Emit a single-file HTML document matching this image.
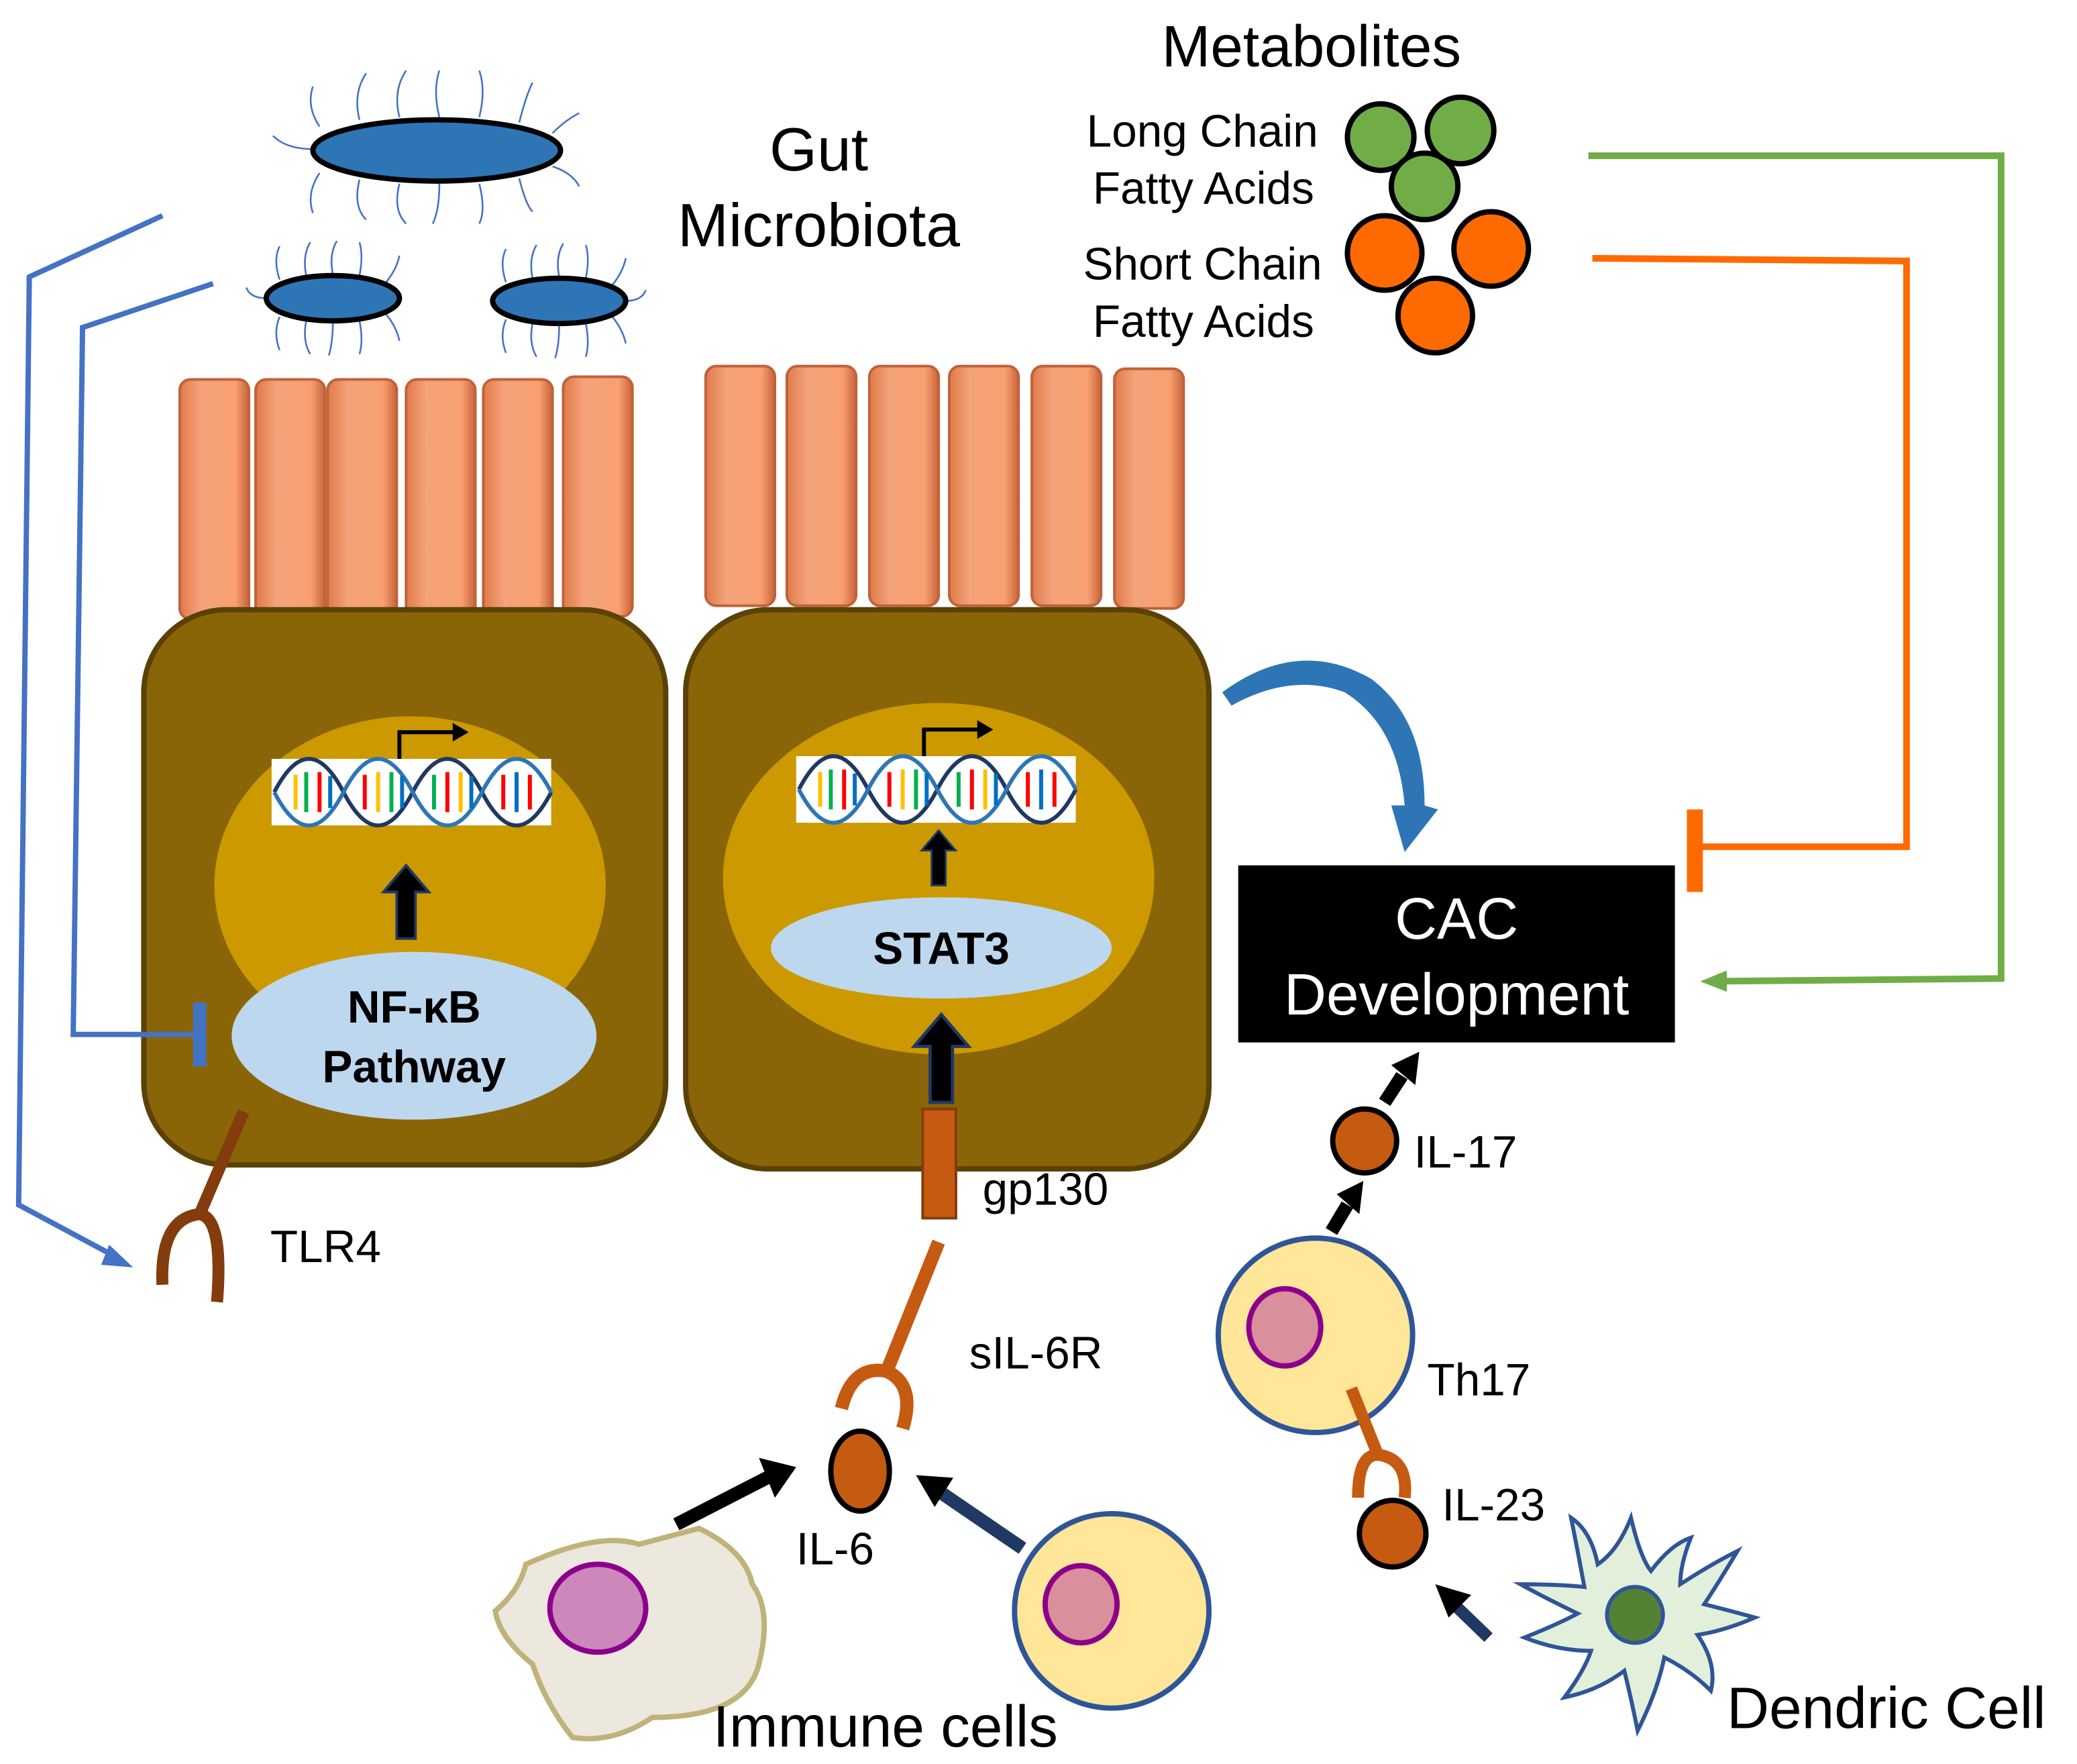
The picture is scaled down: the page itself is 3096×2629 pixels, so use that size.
<!DOCTYPE html>
<html><head><meta charset="utf-8"><style>
html,body{margin:0;padding:0;background:#fff;}
svg{display:block;}
text{font-family:"Liberation Sans",sans-serif;}
</style></head><body>
<svg width="3096" height="2629" viewBox="0 0 1560 1325" preserveAspectRatio="none" xmlns="http://www.w3.org/2000/svg">
<defs>
<marker id="ag" markerWidth="20" markerHeight="20" refX="2" refY="10" orient="auto" markerUnits="userSpaceOnUse"><path d="M0,2 L20,10 L0,18 z" fill="#70ad47"/></marker>
<linearGradient id="villi" x1="0" x2="1"><stop offset="0" stop-color="#e07a4a"/><stop offset="0.3" stop-color="#f4a37a"/><stop offset="0.8" stop-color="#f8a070"/><stop offset="1" stop-color="#c8633a"/></linearGradient>
<g id="black-arrow"><path d="M-7,0 L-7,-35 L-17,-35 L0,-55 L17,-35 L7,-35 L7,0 Z" fill="#000" stroke="#1f3864" stroke-width="2"/></g>
</defs>

<!-- bacteria -->
<g stroke="#4472c4" stroke-width="1.3" fill="none">
<path d="M240,95 q-10,-15 -5,-30 M270,90 q-5,-20 5,-35 M300,88 q-5,-20 5,-35 M330,88 q-5,-20 0,-35 M360,88 q5,-20 0,-35 M390,92 q5,-20 10,-30 M415,100 q10,-10 20,-15 M240,130 q-10,15 -5,30 M270,135 q-5,20 5,30 M300,138 q-5,20 5,30 M330,138 q0,20 -5,30 M360,138 q5,20 0,30 M390,134 q5,20 10,25 M415,125 q15,5 20,15 M235,112 q-20,0 -30,-10"/>
<path d="M210,210 q-5,-15 0,-25 M230,207 q-3,-15 3,-25 M250,206 q-3,-15 3,-25 M270,207 q3,-15 0,-25 M290,212 q8,-10 10,-20 M210,238 q-5,12 0,25 M230,241 q-3,15 3,25 M250,242 q0,15 -3,25 M270,241 q3,15 0,25 M290,236 q8,10 10,20 M200,224 q-12,0 -15,-8"/>
<path d="M380,212 q-5,-15 0,-25 M400,209 q-3,-15 3,-25 M420,208 q-3,-15 3,-25 M440,209 q3,-15 0,-25 M460,214 q8,-10 10,-20 M380,240 q-5,12 0,25 M400,243 q-3,15 3,25 M420,244 q0,15 -3,25 M440,243 q3,15 0,25 M460,238 q8,10 10,20 M470,226 q12,0 15,-8"/>
</g>
<ellipse cx="328" cy="113" rx="93" ry="23" fill="#2e75b6" stroke="#000" stroke-width="4"/>
<ellipse cx="250" cy="224" rx="50" ry="17" fill="#2e75b6" stroke="#000" stroke-width="4"/>
<ellipse cx="420" cy="226" rx="50" ry="17" fill="#2e75b6" stroke="#000" stroke-width="4"/>

<text x="615" y="128" font-size="46" text-anchor="middle">Gut</text>
<text x="615" y="185" font-size="46" text-anchor="middle">Microbiota</text>
<text x="985" y="50" font-size="44" text-anchor="middle">Metabolites</text>
<text x="990" y="110" font-size="34" text-anchor="end">Long Chain</text>
<text x="987" y="153" font-size="34" text-anchor="end">Fatty Acids</text>
<text x="993" y="210" font-size="34" text-anchor="end">Short Chain</text>
<text x="987" y="253" font-size="34" text-anchor="end">Fatty Acids</text>
<g stroke="#000" stroke-width="4">
<circle cx="1037" cy="103" r="25" fill="#70ad47"/><circle cx="1097" cy="98" r="25" fill="#70ad47"/><circle cx="1070" cy="140" r="25" fill="#70ad47"/>
<circle cx="1040" cy="190" r="28" fill="#ff6a00"/><circle cx="1120" cy="187" r="28" fill="#ff6a00"/><circle cx="1078" cy="237" r="28" fill="#ff6a00"/>
</g>

<polyline points="1193,117 1503,117 1503,735 1295,737" fill="none" stroke="#70ad47" stroke-width="5" marker-end="url(#ag)"/>
<polyline points="1196,194 1432,196 1432,636 1273,636" fill="none" stroke="#ff6a00" stroke-width="5"/>
<line x1="1273" y1="608" x2="1273" y2="670" stroke="#ff6a00" stroke-width="12"/>

<!-- villi -->
<g fill="url(#villi)" stroke="#c0623a" stroke-width="2">
<rect x="135" y="285" width="52" height="180" rx="8"/><rect x="192" y="285" width="52" height="180" rx="8"/><rect x="246" y="285" width="52" height="180" rx="8"/><rect x="305" y="285" width="52" height="180" rx="8"/><rect x="363" y="285" width="52" height="180" rx="8"/><rect x="423" y="283" width="52" height="180" rx="8"/>
<rect x="530" y="275" width="52" height="180" rx="8"/><rect x="591" y="275" width="52" height="180" rx="8"/><rect x="653" y="275" width="52" height="180" rx="8"/><rect x="713" y="275" width="52" height="180" rx="8"/><rect x="775" y="275" width="52" height="180" rx="8"/><rect x="837" y="277" width="52" height="180" rx="8"/>
</g>

<!-- cells -->
<rect x="108" y="458" width="392" height="417" rx="62" fill="#8a6508" stroke="#5a4206" stroke-width="4"/>
<rect x="515" y="458" width="393" height="420" rx="62" fill="#8a6508" stroke="#5a4206" stroke-width="4"/>
<ellipse cx="308" cy="665" rx="147" ry="127" fill="#cc9900"/>
<ellipse cx="705" cy="660" rx="162" ry="132" fill="#cc9900"/>

<!-- blue lines (over cells) -->
<polyline points="122,162 22,208 14,905 85,943" fill="none" stroke="#4472c4" stroke-width="4"/>
<path d="M82,935 L100,952 L76,950 Z" fill="#4472c4"/>
<polyline points="160,213 62,246 55,777 150,777" fill="none" stroke="#4472c4" stroke-width="4"/>
<line x1="150" y1="753" x2="150" y2="801" stroke="#4472c4" stroke-width="10"/>

<!-- DNA -->
<g>
<rect x="204" y="570" width="210" height="50" fill="#fff"/>
<rect x="598" y="568" width="210" height="50" fill="#fff"/>
<g stroke-width="3">
<path d="M206,595 q26,-50 52,0 t52,0 t52,0 t52,0" fill="none" stroke="#1f3864"/>
<path d="M206,595 q26,50 52,0 t52,0 t52,0 t52,0" fill="none" stroke="#2e75b6"/>
<path d="M600,593 q26,-50 52,0 t52,0 t52,0 t52,0" fill="none" stroke="#1f3864"/>
<path d="M600,593 q26,50 52,0 t52,0 t52,0 t52,0" fill="none" stroke="#2e75b6"/>
</g>
<g stroke-width="3">
<line x1="222" y1="582" x2="222" y2="608" stroke="#ffc000"/><line x1="230" y1="580" x2="230" y2="610" stroke="#00b050"/><line x1="240" y1="580" x2="240" y2="610" stroke="#ff0000"/><line x1="248" y1="583" x2="248" y2="607" stroke="#0070c0"/>
<line x1="274" y1="582" x2="274" y2="608" stroke="#ff0000"/><line x1="284" y1="580" x2="284" y2="610" stroke="#ffc000"/><line x1="294" y1="580" x2="294" y2="610" stroke="#00b050"/><line x1="302" y1="583" x2="302" y2="607" stroke="#0070c0"/>
<line x1="326" y1="582" x2="326" y2="608" stroke="#00b050"/><line x1="336" y1="580" x2="336" y2="610" stroke="#ff0000"/><line x1="346" y1="580" x2="346" y2="610" stroke="#ffc000"/><line x1="354" y1="583" x2="354" y2="607" stroke="#0070c0"/>
<line x1="378" y1="582" x2="378" y2="608" stroke="#ff0000"/><line x1="388" y1="580" x2="388" y2="610" stroke="#0070c0"/><line x1="398" y1="582" x2="398" y2="608" stroke="#ff0000"/>
<line x1="616" y1="580" x2="616" y2="606" stroke="#ffc000"/><line x1="624" y1="578" x2="624" y2="608" stroke="#00b050"/><line x1="634" y1="578" x2="634" y2="608" stroke="#ff0000"/><line x1="642" y1="581" x2="642" y2="605" stroke="#0070c0"/>
<line x1="668" y1="580" x2="668" y2="606" stroke="#ff0000"/><line x1="678" y1="578" x2="678" y2="608" stroke="#ffc000"/><line x1="688" y1="578" x2="688" y2="608" stroke="#00b050"/><line x1="696" y1="581" x2="696" y2="605" stroke="#0070c0"/>
<line x1="720" y1="580" x2="720" y2="606" stroke="#00b050"/><line x1="730" y1="578" x2="730" y2="608" stroke="#ff0000"/><line x1="740" y1="578" x2="740" y2="608" stroke="#ffc000"/><line x1="748" y1="581" x2="748" y2="605" stroke="#0070c0"/>
<line x1="772" y1="580" x2="772" y2="606" stroke="#ff0000"/><line x1="782" y1="578" x2="782" y2="608" stroke="#0070c0"/><line x1="792" y1="580" x2="792" y2="606" stroke="#ff0000"/>
</g>
<path d="M300,570 L300,550 L343,550" fill="none" stroke="#000" stroke-width="3"/><path d="M340,543 L352,550 L340,557Z"/>
<path d="M694,568 L694,548 L737,548" fill="none" stroke="#000" stroke-width="3"/><path d="M734,541 L746,548 L734,555Z"/>
</g>

<use href="#black-arrow" x="305" y="705"/>
<use href="#black-arrow" transform="translate(705,665) scale(0.75)"/>
<use href="#black-arrow" transform="translate(707,828) scale(1.2)"/>

<ellipse cx="311" cy="778" rx="137" ry="63" fill="#bdd7ee"/>
<text x="311" y="768" font-size="34" font-weight="bold" text-anchor="middle">NF-κB</text>
<text x="311" y="813" font-size="34" font-weight="bold" text-anchor="middle">Pathway</text>
<ellipse cx="707" cy="712" rx="128" ry="38" fill="#bdd7ee"/>
<text x="707" y="724" font-size="34" font-weight="bold" text-anchor="middle">STAT3</text>

<!-- TLR4 -->
<g fill="none" stroke="#843c0c" stroke-width="9">
<line x1="183" y1="835" x2="150" y2="912"/>
<path d="M122,965 Q120,915 150,912 Q168,915 163,978"/>
</g>
<text x="203" y="948" font-size="34">TLR4</text>

<rect x="693" y="833" width="25" height="82" fill="#c55a11" stroke="#843c0c" stroke-width="2"/>
<text x="738" y="905" font-size="34">gp130</text>
<g fill="none" stroke="#c55a11" stroke-width="10">
<line x1="705" y1="933" x2="666" y2="1030"/>
<path d="M632,1058 Q640,1025 666,1030 Q688,1040 678,1073"/>
</g>
<text x="728" y="1028" font-size="34">sIL-6R</text>
<ellipse cx="646" cy="1105" rx="22" ry="30" fill="#c55a11" stroke="#000" stroke-width="4"/>
<text x="598" y="1175" font-size="34">IL-6</text>
<line x1="508" y1="1145" x2="580" y2="1108" stroke="#000" stroke-width="10"/><path d="M570,1095 L598,1102 L582,1125Z"/>
<line x1="768" y1="1163" x2="705" y2="1120" stroke="#1f3864" stroke-width="10"/><path d="M688,1108 L716,1110 L702,1132Z"/>

<path d="M395,1175 Q450,1150 480,1160 L525,1148 Q560,1165 565,1190 Q580,1210 570,1250 Q560,1290 490,1290 Q460,1310 430,1305 Q410,1280 400,1250 Q375,1230 372,1210 Q390,1195 395,1175 Z" fill="#ede8de" stroke="#bfb37a" stroke-width="4"/>
<ellipse cx="449" cy="1208" rx="36" ry="33" fill="#cc88bb" stroke="#8b008b" stroke-width="4"/>
<circle cx="835" cy="1210" r="73" fill="#ffe699" stroke="#2f5597" stroke-width="4"/>
<ellipse cx="812" cy="1205" rx="27" ry="29" fill="#d98f9c" stroke="#8b008b" stroke-width="4"/>
<text x="665" y="1312" font-size="44" text-anchor="middle">Immune cells</text>

<rect x="930" y="650" width="328" height="133" fill="#000"/>
<text x="1094" y="705" font-size="44" fill="#fff" text-anchor="middle">CAC</text>
<text x="1094" y="762" font-size="44" fill="#fff" text-anchor="middle">Development</text>
<path d="M918,520 Q975,478 1030,510 Q1070,540 1070,605 L1080,608 L1055,640 L1045,605 L1055,605 Q1050,545 1010,520 Q970,505 925,530 Z" fill="#2e75b6"/>

<circle cx="1025" cy="857" r="24" fill="#c55a11" stroke="#000" stroke-width="4"/>
<text x="1062" y="877" font-size="34">IL-17</text>
<line x1="1040" y1="828" x2="1053" y2="808" stroke="#000" stroke-width="10"/><path d="M1045,800 L1066,790 L1063,815Z"/>
<line x1="1000" y1="925" x2="1012" y2="905" stroke="#000" stroke-width="10"/><path d="M1004,897 L1024,887 L1021,912Z"/>
<circle cx="988" cy="1003" r="73" fill="#ffe699" stroke="#2f5597" stroke-width="4"/>
<ellipse cx="965" cy="997" rx="27" ry="29" fill="#d98f9c" stroke="#8b008b" stroke-width="4"/>
<text x="1072" y="1048" font-size="34">Th17</text>
<g fill="none" stroke="#c55a11" stroke-width="9">
<line x1="1015" y1="1043" x2="1035" y2="1093"/>
<path d="M1020,1125 Q1020,1090 1037,1093 Q1058,1097 1055,1125"/>
</g>
<circle cx="1046" cy="1152" r="25" fill="#c55a11" stroke="#000" stroke-width="4"/>
<text x="1083" y="1142" font-size="34">IL-23</text>
<line x1="1118" y1="1230" x2="1092" y2="1205" stroke="#1f3864" stroke-width="9"/><path d="M1078,1190 L1105,1198 L1088,1215Z"/>

<path d="M1180,1140 Q1195,1150 1200,1175 Q1215,1165 1225,1140 Q1232,1170 1240,1180 Q1255,1160 1270,1155 Q1262,1175 1262,1190 Q1285,1175 1305,1165 Q1290,1190 1280,1205 Q1300,1210 1318,1215 Q1295,1225 1275,1228 Q1290,1250 1285,1270 Q1270,1255 1250,1245 Q1245,1270 1230,1300 Q1225,1275 1220,1255 Q1200,1270 1175,1275 Q1190,1255 1195,1240 Q1170,1240 1145,1230 Q1170,1220 1185,1212 Q1160,1200 1142,1190 Q1170,1190 1190,1192 Q1185,1165 1180,1140 Z" fill="#e2efda" stroke="#2f5597" stroke-width="3"/>
<circle cx="1228" cy="1213" r="21" fill="#548235" stroke="#2f5597" stroke-width="3"/>
<text x="1297" y="1298" font-size="44">Dendric Cell</text>
</svg>
</body></html>
